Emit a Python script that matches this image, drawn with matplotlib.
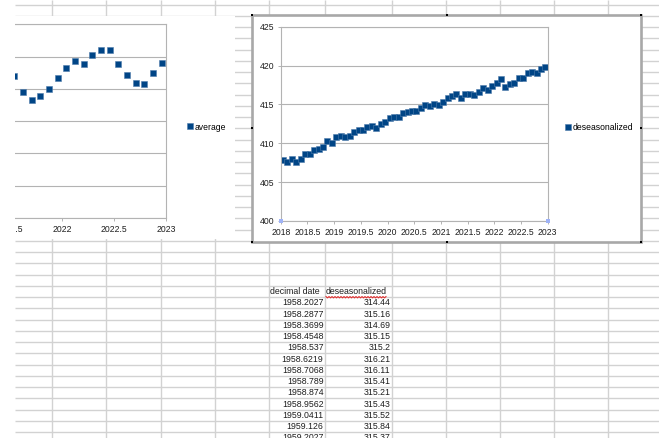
import numpy as np
import matplotlib
matplotlib.use("Agg")
import matplotlib.pyplot as plt
from matplotlib.patches import Rectangle
from matplotlib.ticker import MultipleLocator

plt.rcParams['font.family'] = ['Liberation Sans', 'DejaVu Sans']

# monthly mean CO2 (ppm), Jul 2021 .. Dec 2022
AVG_YEARS = [2021] * 6 + [2022] * 12
AVG_MONTHS = [7, 8, 9, 10, 11, 12] + list(range(1, 13))
AVERAGE = [416.96, 414.47, 413.30, 413.93, 415.01, 416.71,
           418.19, 419.28, 418.81, 420.23, 420.99, 420.99,
           418.90, 417.19, 415.95, 415.78, 417.51, 418.95]

# deseasonalized CO2 (ppm), one row per year 2018..2022
DESEASON_YEARS = [2018, 2019, 2020, 2021, 2022]
DESEASONALIZED = [
    [407.84, 407.60, 408.00, 407.63, 407.93, 408.57, 408.60, 409.08, 409.30, 409.55, 410.24, 409.98],
    [410.75, 410.90, 410.80, 410.90, 411.50, 411.70, 411.70, 412.10, 412.20, 412.00, 412.50, 412.70],
    [413.20, 413.40, 413.40, 413.90, 414.00, 414.10, 414.20, 414.60, 414.90, 414.80, 415.10, 414.90],
    [415.30, 415.80, 416.10, 416.40, 415.80, 416.40, 416.40, 416.20, 416.60, 417.10, 416.90, 417.40],
    [417.70, 418.30, 417.30, 417.60, 417.80, 418.40, 418.40, 419.00, 419.20, 419.00, 419.50, 419.80],
]

# cells shown in the sheet below the charts
SHEET_HEADER = ["decimal date", "deseasonalized"]
SHEET_DATES = ["1958.2027", "1958.2877", "1958.3699", "1958.4548", "1958.537", "1958.6219",
               "1958.7068", "1958.789", "1958.874", "1958.9562", "1959.0411", "1959.126",
               "1959.2027"]
SHEET_VALUES = ["314.44", "315.16", "314.69", "315.15", "315.2", "316.21", "316.11",
                "315.41", "315.21", "315.43", "315.52", "315.84", "315.37"]


def decimal_date(year, month):
    return year + (month - 0.5) / 12


W, H = 659, 438
fig = plt.figure(figsize=(W / 100, H / 100), dpi=100)


def px_axes(l, t, r, b, **kw):
    return fig.add_axes([l / W, 1 - b / H, (r - l) / W, (b - t) / H], **kw)


BLUE = '#004586'
HALO = '#4f7cab'
AXC = '#b3b3b3'
TXT = '#1e1e1e'
CHART_FS = 6.2
SHEET_FS = 6.3
MS = 5.0

# --- spreadsheet background
bg = px_axes(0, 0, W, H)
bg.set_xlim(0, W); bg.set_ylim(H, 0); bg.axis('off')
ROW0, ROW_H = 4.7, 11.25
COLS = [52, 106, 160.5, 214.5, 269, 325, 392, 445.5, 499.5, 554, 608]
rows = ROW0 + ROW_H * np.arange(40)
bg.hlines(rows, 15, W, color='#d2d2d2', lw=1.0, zorder=1)
bg.vlines(COLS, 0, H, color='#d2d2d2', lw=1.0, zorder=1)

# chart areas hide the cell grid
bg.add_patch(Rectangle((-5, 15.5), 240, 223.5, fc='white', ec='none', zorder=2))
bg.add_patch(Rectangle((252, 15), 389, 227, fc='white', ec='#a8a8a8', lw=1.9, zorder=3))
hx = [252, 446.5, 641]
hy = [15, 128, 242]
for x in hx:
    for y in hy:
        if x == 446.5 and y == 128:
            continue
        bg.plot(x, y, 's', ms=2.0, color='black', mew=0, zorder=4)

# sheet text
hdr_row = 25
yc = ROW0 + ROW_H * (hdr_row + 0.5)
bg.text(270, yc, SHEET_HEADER[0], fontsize=SHEET_FS, color=TXT, ha='left', va='center', zorder=5)
bg.text(326, yc, SHEET_HEADER[1], fontsize=SHEET_FS, color=TXT, ha='left', va='center', zorder=5)
# spell-check squiggle under the header
sx = np.arange(326, 386.5, 1.5)
sy = yc + 5.0 + np.where(np.arange(len(sx)) % 2 == 0, 0, 1.3)
bg.plot(sx, sy, color='#e03030', lw=0.8, zorder=5)
for i, (d, v) in enumerate(zip(SHEET_DATES, SHEET_VALUES)):
    y = ROW0 + ROW_H * (hdr_row + 1 + i + 0.5)
    bg.text(323.5, y, d, fontsize=SHEET_FS, color=TXT, ha='right', va='center', zorder=5)
    bg.text(390.5, y, v, fontsize=SHEET_FS, color=TXT, ha='right', va='center', zorder=5)


def style_chart(ax):
    for sp in ax.spines.values():
        sp.set_color(AXC); sp.set_linewidth(0.8)
    ax.grid(axis='y', color=AXC, lw=0.8)
    ax.set_axisbelow(True)
    ax.tick_params(direction='out', length=2.2, width=0.7, color=AXC,
                   labelsize=CHART_FS, labelcolor=TXT, pad=2.5)
    ax.xaxis.set_major_locator(MultipleLocator(0.5))
    ax.xaxis.set_major_formatter(plt.FuncFormatter(lambda v, p: f'{v:g}'))
    ax.yaxis.set_major_locator(MultipleLocator(5))


# --- left chart: monthly average (only its right part is on screen)
ax1 = px_axes(62 - 4 * 104, 24.3, 166, 218)
avg_x = [decimal_date(y, m) for y, m in zip(AVG_YEARS, AVG_MONTHS)]
ax1.plot(avg_x, AVERAGE, 's', ms=MS, color=BLUE, mec=HALO, mew=0.4, label='average', clip_on=False)
ax1.set_xlim(2018, 2023); ax1.set_ylim(395, 425)
style_chart(ax1)
ax1.legend(loc='center left', bbox_to_anchor=(188 / W, 1 - 127 / H), bbox_transform=fig.transFigure,
           frameon=False, fontsize=CHART_FS, handlelength=0.5, handletextpad=0.25,
           borderpad=0, borderaxespad=0, markerscale=0.75)

# --- right chart: deseasonalized
ax2 = px_axes(280.7, 26.7, 547.7, 221)
des_x = [decimal_date(y, m + 1) for y in DESEASON_YEARS for m in range(12)]
des_y = [v for row in DESEASONALIZED for v in row]
ax2.plot(des_x, des_y, 's', ms=MS, color=BLUE, mec=HALO, mew=0.4, label='deseasonalized')
ax2.set_xlim(2018, 2023); ax2.set_ylim(400, 425)
style_chart(ax2)
# axis selection handles
ax2.plot([2018, 2023], [400, 400], 's', ms=2.9, color='#9fb3f7', mew=0, clip_on=False, zorder=5)
ax2.legend(loc='center left', bbox_to_anchor=(566 / W, 1 - 128 / H), bbox_transform=fig.transFigure,
           frameon=False, fontsize=CHART_FS, handlelength=0.5, handletextpad=0.25,
           borderpad=0, borderaxespad=0, markerscale=0.75)

# the window edge covers the far left
fig.add_artist(Rectangle((0, 0), 15 / W, 1, transform=fig.transFigure, fc='white', ec='none', zorder=10))

fig.savefig('out.png', dpi=100)
